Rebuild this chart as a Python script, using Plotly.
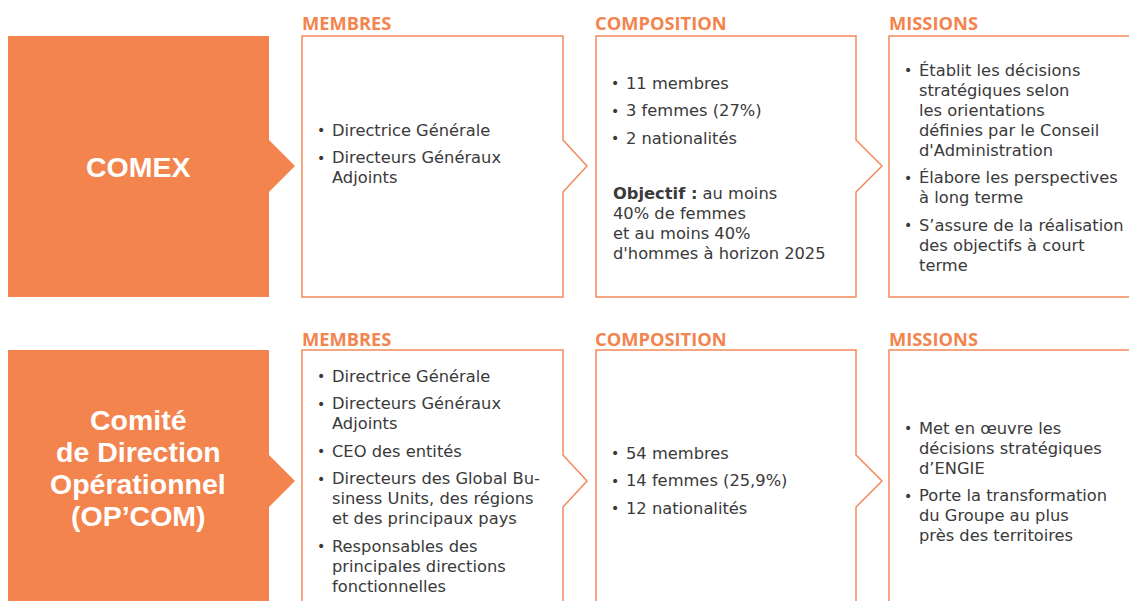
import plotly.graph_objects as go

# ---- content ----
committees = [["COMEX"], ["Comité", "de Direction", "Opérationnel", "(OP’COM)"]]
headers = ["MEMBRES", "COMPOSITION", "MISSIONS"]

comex_membres = [["Directrice Générale"], ["Directeurs Généraux", "Adjoints"]]
comex_composition = [["11 membres"], ["3 femmes (27%)"], ["2 nationalités"]]
comex_objectif = ["<b>Objectif :</b> au moins", "40% de femmes", "et au moins 40%", "d'hommes à horizon 2025"]
comex_missions = [["Établit les décisions", "stratégiques selon", "les orientations",
                   "définies par le Conseil", "d'Administration"],
                  ["Élabore les perspectives", "à long terme"],
                  ["S’assure de la réalisation", "des objectifs à court", "terme"]]

opcom_membres = [["Directrice Générale"], ["Directeurs Généraux", "Adjoints"], ["CEO des entités"],
                 ["Directeurs des Global Bu-", "siness Units, des régions", "et des principaux pays"],
                 ["Responsables des", "principales directions", "fonctionnelles"]]
opcom_composition = [["54 membres"], ["14 femmes (25,9%)"], ["12 nationalités"]]
opcom_missions = [["Met en œuvre les", "décisions stratégiques", "d’ENGIE"],
                  ["Porte la transformation", "du Groupe au plus", "près des territoires"]]

# ---- styles ----
ORANGE = "#F3844E"
LINE = "#F3895A"
TXT = "#3a3a3a"
BODY_FONT = "DejaVu Sans"
HEAD_FONT = "Open Sans"
TITLE_FONT = "Liberation Sans"
BODY = 16.3
LH = 20        # wrapped line height
STEP = 27.5    # distance from last line of a bullet to first line of next

fig = go.Figure()
fig.add_trace(go.Scatter(x=[10, 1100], y=[10, 590], mode="markers", marker=dict(opacity=0),
                         hoverinfo="skip", showlegend=False))

shapes = []
annotations = []

def text(x, y, s, size=BODY, color=TXT, anchor="left", family=BODY_FONT):
    annotations.append(dict(x=x, y=y, text=s, showarrow=False, xanchor=anchor, yanchor="middle",
                            borderpad=0, font=dict(family=family, size=size, color=color)))

def orange_box(x0, x1, y0, y1, ym, tip):
    path = f"M {x0} {y0} L {x1} {y0} L {x1} {ym-26} L {tip} {ym} L {x1} {ym+26} L {x1} {y1} L {x0} {y1} Z"
    shapes.append(dict(type="path", path=path, fillcolor=ORANGE, line=dict(width=0), layer="below"))

def outline_box(x0, x1, y0, y1, ym, tip=None):
    if tip is None:
        path = f"M {x1} {y0} L {x0} {y0} L {x0} {y1} L {x1} {y1}"
    else:
        path = f"M {x0} {y0} L {x1} {y0} L {x1} {ym-26} L {tip} {ym} L {x1} {ym+26} L {x1} {y1} L {x0} {y1} Z"
    shapes.append(dict(type="path", path=path, line=dict(color=LINE, width=1.5), fillcolor="rgba(0,0,0,0)"))

def bullets(xb, xt, y_first, items):
    y = y_first
    for lines in items:
        text(xb, y, "•", size=14)
        for i, ln in enumerate(lines):
            text(xt, y + i * LH, ln)
        y += (len(lines) - 1) * LH + STEP

def block(x, y_first, lines):
    for i, ln in enumerate(lines):
        text(x, y_first + i * LH, ln)

def title(xc, yc, lines, lh=32):
    y0 = yc - (len(lines) - 1) * lh / 2
    for i, ln in enumerate(lines):
        text(xc, y0 + i * lh, f"<b>{ln}</b>", size=28.5, color="white", anchor="center", family=TITLE_FONT)

# Row 1
top1, bot1, mid1 = 36, 297, 166
orange_box(8, 269, top1, bot1, mid1, 295)
outline_box(302, 563, top1, bot1, mid1, 587)
outline_box(596, 856, top1, bot1, mid1, 882)
outline_box(889, 1145, top1, bot1, mid1)
for x, hd in zip([301, 594, 888], headers):
    text(x, 22, f"<b>{hd}</b>", size=18.3, color=ORANGE, family=HEAD_FONT)
title(138, 167, committees[0])
bullets(316, 331, 130, comex_membres)
bullets(610, 625, 83, comex_composition)
block(612, 193, comex_objectif)
bullets(903, 918, 70, comex_missions)

# Row 2
top2, bot2, mid2 = 350, 640, 481
orange_box(8, 269, top2, bot2, mid2, 295)
outline_box(302, 563, top2, bot2, mid2, 587)
outline_box(596, 856, top2, bot2, mid2, 882)
outline_box(889, 1145, top2, bot2, mid2)
for x, hd in zip([301, 594, 888], headers):
    text(x, 338, f"<b>{hd}</b>", size=18.3, color=ORANGE, family=HEAD_FONT)
title(138, 468, committees[1])
bullets(316, 331, 376, opcom_membres)
bullets(610, 625, 453, opcom_composition)
bullets(903, 918, 428, opcom_missions)

# page body has an 8px margin: offset axis ranges so data units == reference pixels
fig.update_layout(
    width=1137, height=601, margin=dict(l=0, r=0, t=0, b=0),
    paper_bgcolor="white", plot_bgcolor="white",
    xaxis=dict(range=[8, 1145], visible=False, fixedrange=True),
    yaxis=dict(range=[609, 8], visible=False, fixedrange=True),
    shapes=shapes, annotations=annotations, showlegend=False,
)
fig.write_html("out.html")
